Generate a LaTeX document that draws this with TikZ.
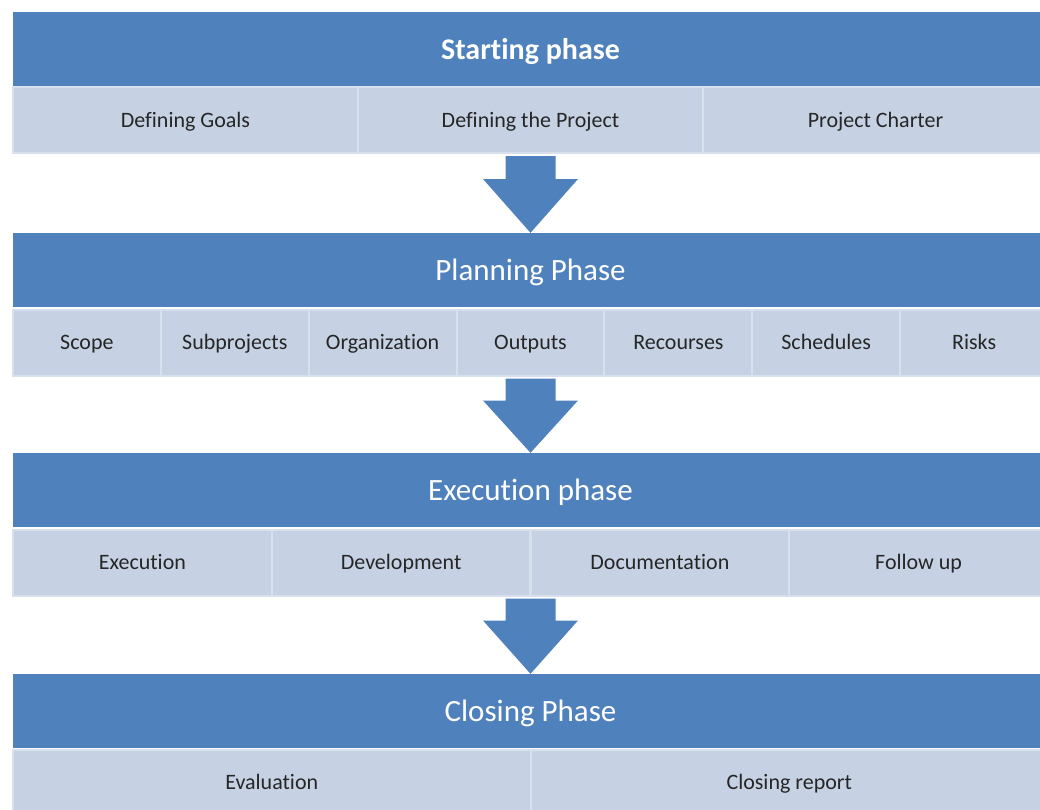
\documentclass[tikz,border=0pt]{standalone}
\usepackage{fontspec}
\setmainfont{Carlito}[Ligatures=NoCommon]
\usetikzlibrary{calc}

\definecolor{hdrblue}{RGB}{79,129,189}
\definecolor{cellfill}{RGB}{198,210,228}
\definecolor{cellline}{RGB}{216,224,237}
\definecolor{celltext}{RGB}{38,38,38}

\tikzset{
  hdr/.style={fill=hdrblue, text=white, minimum width=1035pt, minimum height=74pt,
    inner sep=0pt, text height=20pt, text depth=0pt, font=\fontsize{31}{34}\selectfont},
  cell/.style={fill=cellfill, draw=cellline, line width=2pt, text=celltext,
    minimum height=66pt, inner sep=0pt, text height=14.2pt, text depth=0pt,
    font=\fontsize{22}{24}\selectfont},
}

\begin{document}
\begin{tikzpicture}[x=1pt,y=-1pt]
\useasboundingbox (0,0) rectangle (1040,809);

% starting phase
\node[hdr, font=\fontsize{30}{34}\selectfont\bfseries] (start) at (530.5,49) {Starting phase};
\node[cell, minimum width=345pt] (goal1) at (185.5,120) {Defining Goals};
\node[cell, minimum width=345pt] (goal2) at (530.5,120) {Defining the Project};
\node[cell, minimum width=345pt] (goal3) at (875.5,120) {Project Charter};

% planning phase
\node[hdr] (plan) at (530.5,270) {Planning Phase};
\node[cell, minimum width=147.86pt] (plan1) at (86.9,342.5) {Scope};
\node[cell, minimum width=147.86pt] (plan2) at (234.8,342.5) {Subprojects};
\node[cell, minimum width=147.86pt] (plan3) at (382.6,342.5) {Organization};
\node[cell, minimum width=147.86pt] (plan4) at (530.5,342.5) {Outputs};
\node[cell, minimum width=147.86pt] (plan5) at (678.4,342.5) {Recourses};
\node[cell, minimum width=147.86pt] (plan6) at (826.2,342.5) {Schedules};
\node[cell, minimum width=147.86pt] (plan7) at (974.1,342.5) {Risks};

% execution phase
\node[hdr] (exec) at (530.5,490) {Execution phase};
\node[cell, minimum width=258.75pt] (exec1) at (142.4,562.5) {Execution};
\node[cell, minimum width=258.75pt] (exec2) at (401.1,562.5) {Development};
\node[cell, minimum width=258.75pt] (exec3) at (659.9,562.5) {Documentation};
\node[cell, minimum width=258.75pt] (exec4) at (918.6,562.5) {Follow up};

% closing phase
\node[hdr] (close) at (530.5,711) {Closing Phase};
\node[cell, minimum width=517.5pt] (close1) at (271.75,782.5) {Evaluation};
\node[cell, minimum width=517.5pt] (close2) at (789.25,782.5) {Closing report};

% block arrows between the phases
\coordinate (a1) at (start |- goal1.south);
\coordinate (a2) at (plan |- plan1.south);
\coordinate (a3) at (exec |- exec1.south);
\fill[hdrblue] ($(a1)+(-25,2)$) -- ($(a1)+(25,2)$) -- ($(a1)+(25,25)$) -- ($(a1)+(47.5,25)$)
  -- (plan.north) -- ($(a1)+(-47.5,25)$) -- ($(a1)+(-25,25)$) -- cycle;
\fill[hdrblue] ($(a2)+(-25,2)$) -- ($(a2)+(25,2)$) -- ($(a2)+(25,24)$) -- ($(a2)+(47.5,24)$)
  -- (exec.north) -- ($(a2)+(-47.5,24)$) -- ($(a2)+(-25,24)$) -- cycle;
\fill[hdrblue] ($(a3)+(-25,2)$) -- ($(a3)+(25,2)$) -- ($(a3)+(25,24)$) -- ($(a3)+(47.5,24)$)
  -- (close.north) -- ($(a3)+(-47.5,24)$) -- ($(a3)+(-25,24)$) -- cycle;
\end{tikzpicture}
\end{document}
